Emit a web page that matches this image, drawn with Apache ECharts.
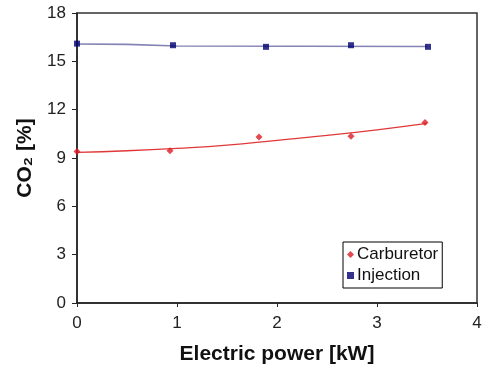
<!DOCTYPE html>
<html><head><meta charset="utf-8">
<script src="https://cdn.jsdelivr.net/npm/echarts@6/dist/echarts.min.js"></script>
<style>html,body{margin:0;padding:0;background:#fff}#c{width:482px;height:367px}</style>
</head><body><div id="c"></div>
<script>
const carbX = [0, 0.93, 1.82, 2.74, 3.48];
const carbY = [9.4, 9.45, 10.3, 10.35, 11.2];
const injX = [0, 0.96, 1.89, 2.74, 3.51];
const injY = [16.1, 16.0, 15.9, 16.0, 15.9];
const carbTrendX = [0, 0.5, 1, 1.5, 2, 2.5, 3, 3.5];
const carbTrendY = [9.35, 9.45, 9.6, 9.8, 10.1, 10.4, 10.75, 11.15];
const injTrendX = [0, 0.5, 1.0, 3.5];
const injTrendY = [16.08, 16.05, 15.95, 15.92];
const xTicks = [0, 1, 2, 3, 4];
const yTicks = [0, 3, 6, 9, 12, 15, 18];

const pair = (xs, ys) => xs.map((x, i) => [x, ys[i]]);
const font = 'Liberation Sans, Arial, sans-serif';
const chart = echarts.init(document.getElementById('c'), null, {renderer: 'canvas'});
chart.setOption({
  animation: false,
  grid: {left: 77, right: 5, top: 13, bottom: 64, outerBoundsMode: 'none', containLabel: false,
         show: true, borderColor: '#333', borderWidth: 1.5, backgroundColor: '#fff'},
  xAxis: {
    type: 'value', min: xTicks[0], max: xTicks[xTicks.length - 1], interval: 1,
    name: 'Electric power [kW]', nameLocation: 'middle', nameGap: 41,
    nameTextStyle: {fontFamily: font, fontSize: 21, fontWeight: 'bold', color: '#111'},
    axisLine: {lineStyle: {color: '#222', width: 1.5}},
    axisTick: {show: true, inside: false, length: 4, lineStyle: {color: '#222'}},
    axisLabel: {fontFamily: font, fontSize: 17, color: '#222', margin: 12},
    splitLine: {show: false}
  },
  yAxis: {
    type: 'value', min: yTicks[0], max: yTicks[yTicks.length - 1], interval: 3,
    name: 'CO₂ [%]', nameLocation: 'middle', nameGap: 38, nameRotate: 90,
    nameTextStyle: {fontFamily: font, fontSize: 21, fontWeight: 'bold', color: '#111'},
    axisLine: {show: true, lineStyle: {color: '#222', width: 1.5}},
    axisTick: {show: true, inside: false, length: 5, lineStyle: {color: '#222'}},
    axisLabel: {fontFamily: font, fontSize: 17, color: '#222', margin: 11},
    splitLine: {show: false}
  },
  legend: {
    data: [
      {name: 'Carburetor', icon: 'diamond'},
      {name: 'Injection', icon: 'rect'}
    ],
    orient: 'vertical', left: 343, top: 242,
    itemWidth: 7, itemHeight: 7, itemGap: 4,
    padding: [4, 4, 4, 4],
    borderColor: '#000', borderWidth: 1, backgroundColor: '#fff',
    textStyle: {fontFamily: font, fontSize: 17, color: '#111', padding: [0, 0, 0, -2]}
  },
  series: [
    {name: 'CarbTrend', type: 'line', data: pair(carbTrendX, carbTrendY), smooth: true, showSymbol: false,
     lineStyle: {color: '#e03838', width: 1.3}, z: 2, silent: true},
    {name: 'InjTrend', type: 'line', data: pair(injTrendX, injTrendY), showSymbol: false,
     lineStyle: {color: '#8484b4', width: 1.6}, z: 2, silent: true},
    {name: 'Carburetor', type: 'scatter', data: pair(carbX, carbY), symbol: 'diamond', symbolSize: 7,
     itemStyle: {color: '#dd1c24'}, z: 3},
    {name: 'Injection', type: 'scatter', data: pair(injX, injY), symbol: 'rect', symbolSize: 6,
     itemStyle: {color: '#000070'}, z: 3}
  ]
});
</script></body></html>
